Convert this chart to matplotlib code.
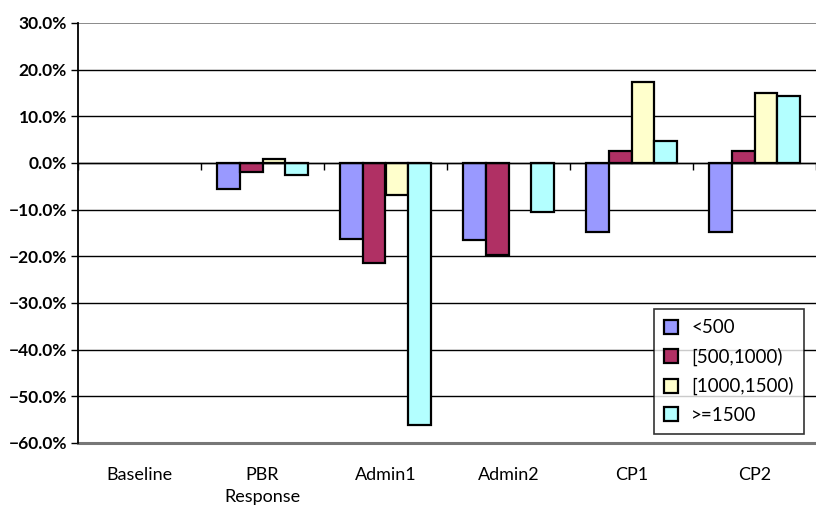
import numpy as np
import matplotlib
matplotlib.use('Agg')
import matplotlib.pyplot as plt
from matplotlib.patches import Patch
from matplotlib.ticker import PercentFormatter, FixedLocator

# change vs baseline, by size class
categories = ['Baseline', 'PBR\nResponse', 'Admin1', 'Admin2', 'CP1', 'CP2']
series_names = ['<500', '[500,1000)', '[1000,1500)', '>=1500']
lt500 = [0.0, -5.6, -16.3, -16.6, -14.7, -14.7]
r500_1000 = [0.0, -1.9, -21.5, -19.8, 2.5, 2.5]
r1000_1500 = [0.0, 0.9, -6.9, 0.0, 17.3, 14.9]
ge1500 = [0.0, -2.6, -56.1, -10.5, 4.8, 14.3]
colors = ['#9999FF', '#B03064', '#FFFFCC', '#B3FFFF']

plt.rcParams['font.family'] = ['Lato', 'DejaVu Sans']

fig = plt.figure(figsize=(8.16, 5.08), dpi=100)
ax = fig.add_axes([78/816, 1 - 443/508, (816 - 78)/816, 420/508])

x = np.arange(len(categories))
w = 0.184
allvals = [lt500, r500_1000, r1000_1500, ge1500]
for i, vals in enumerate(allvals):
    v = np.array(vals)
    # zero values get no outline so nothing shows
    lw = [1.6 if val != 0 else 0 for val in v]
    ax.bar(x + (i - 1.5) * w, v, w, color=colors[i], edgecolor='black',
           linewidth=lw, zorder=3)

ax.set_xlim(-0.5, len(categories) - 0.5)
ax.set_ylim(-60, 30)
ax.yaxis.set_major_locator(FixedLocator(np.arange(-60, 31, 10)))
ax.yaxis.set_major_formatter(PercentFormatter(decimals=1))
for t in np.arange(-50, 30, 10):
    ax.axhline(t, color='black', linewidth=1.0, zorder=1)
ax.axhline(30, color='#777777', linewidth=1.2, zorder=1)

for s in ['top', 'right']:
    ax.spines[s].set_visible(False)
ax.spines['left'].set_linewidth(1.3)
ax.spines['bottom'].set_position(('data', 0))
ax.spines['bottom'].set_linewidth(1.0)
ax.spines['bottom'].set_zorder(4)
ax.set_xticks(np.arange(len(categories) + 1) - 0.5)
ax.set_xticklabels([])
ax.tick_params(axis='x', direction='out', length=5, width=1.0)
ax.tick_params(axis='y', direction='out', length=5, width=1.0, pad=3,
               labelsize=12.5)
for lb in ax.get_yticklabels():
    lb.set_fontweight('bold')

# gray floor line and category names below it
ax.axhline(-60, color='#777777', linewidth=2.2, zorder=2, clip_on=False)
sec = ax.secondary_xaxis(0.0)
sec.set_xticks(x)
sec.set_xticklabels(categories, fontsize=13, linespacing=1.5, va='top')
sec.tick_params(length=0, pad=17)
sec.spines['bottom'].set_visible(False)

handles = [Patch(facecolor=c, edgecolor='black', linewidth=1.6) for c in colors]
leg = ax.legend(handles, series_names, loc='lower right',
                bbox_to_anchor=((804 - 78)/738, (443 - 434)/420),
                fontsize=13.5, frameon=True, fancybox=False, edgecolor='black',
                handlelength=0.75, handleheight=0.75, handletextpad=0.7,
                labelspacing=0.6, borderpad=0.55, borderaxespad=0)
leg.get_frame().set_linewidth(1.2)
leg.set_zorder(5)

fig.savefig('out.png', dpi=100)
